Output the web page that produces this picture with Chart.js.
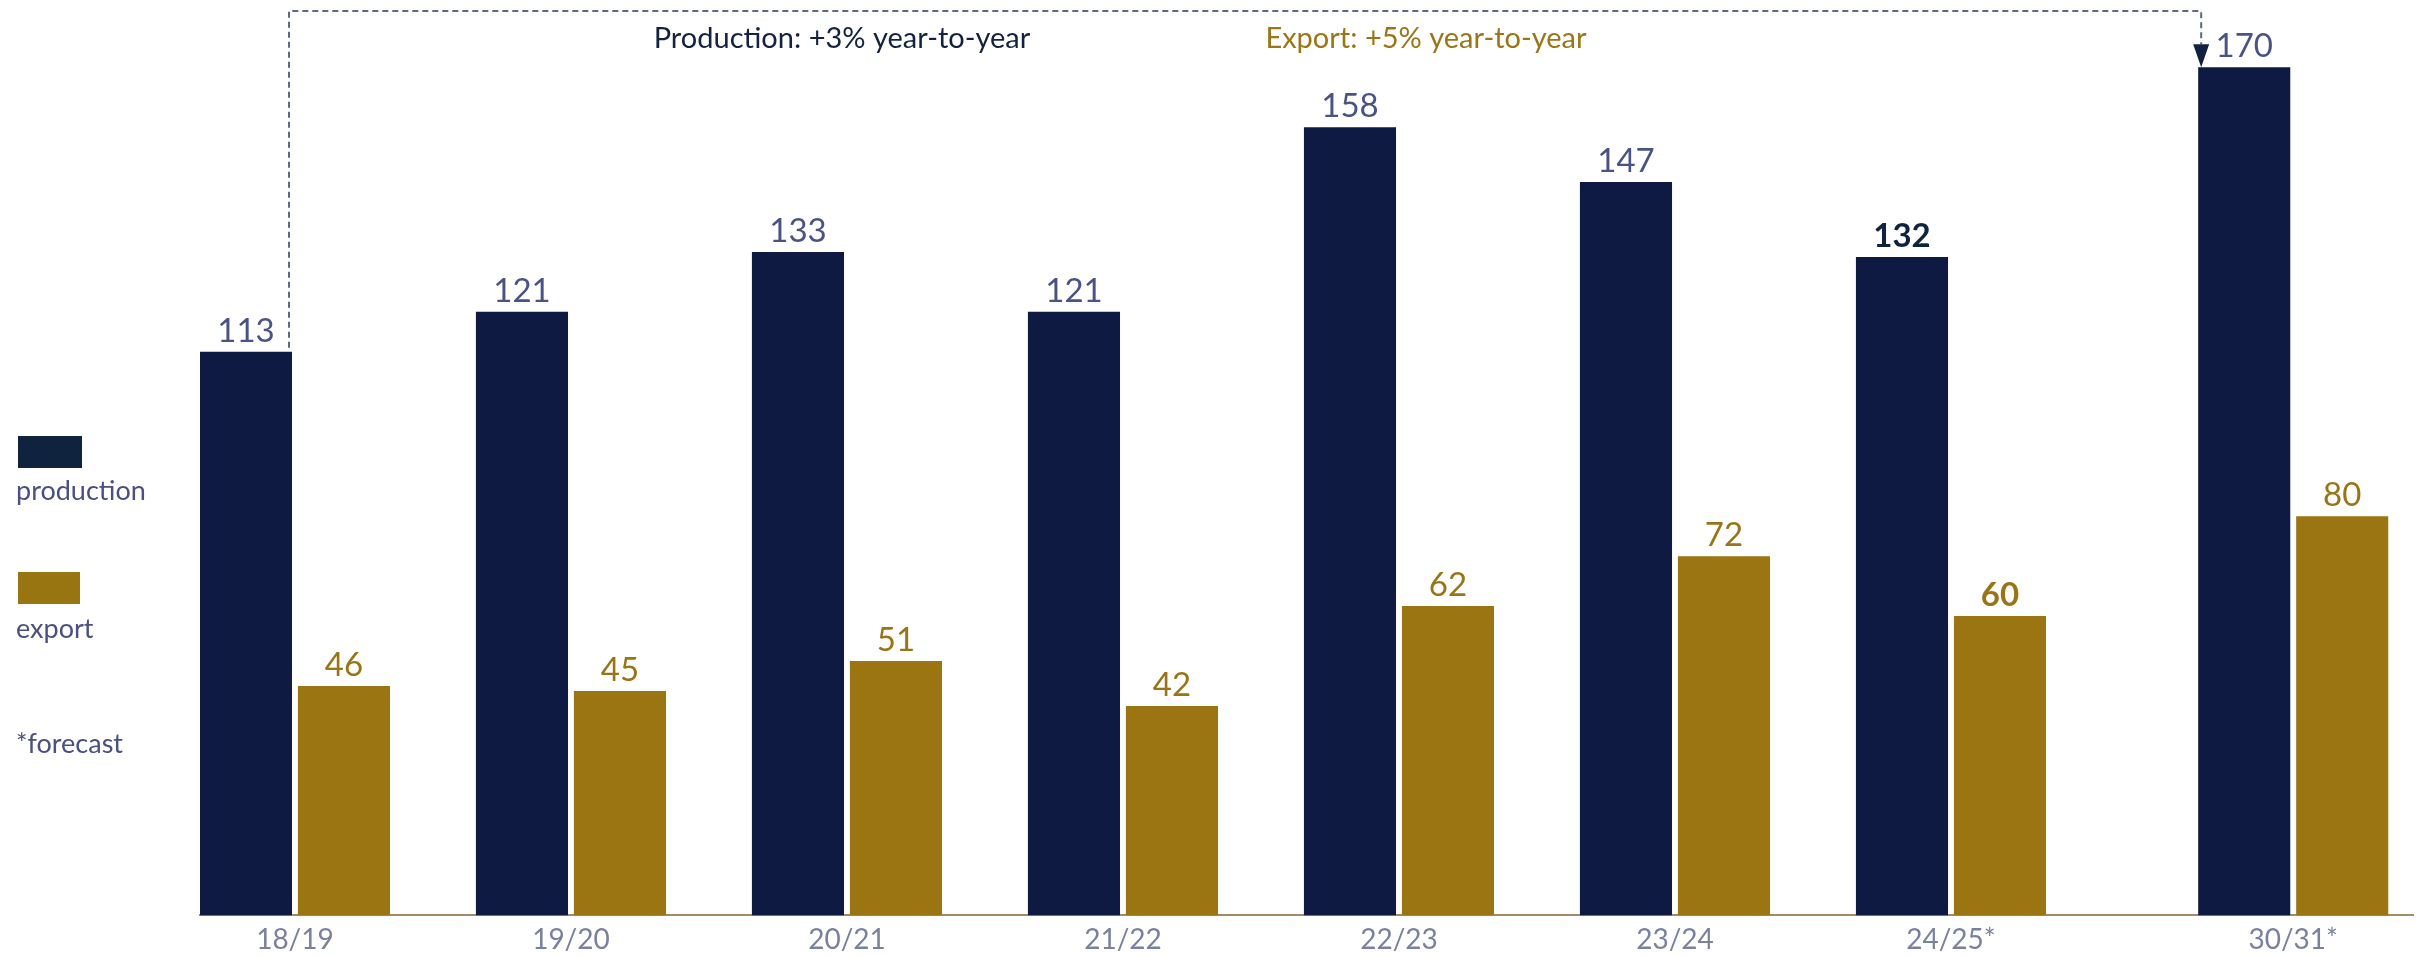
<!DOCTYPE html>
<html>
<head>
<meta charset="utf-8">
<title>Production and export</title>
<script src="https://cdn.jsdelivr.net/npm/chart.js@4.4.1/dist/chart.umd.min.js"></script>
<style>
  html, body { margin: 0; padding: 0; background: #fff; }
  #container { width: 2425px; height: 956px; }
</style>
</head>
<body>
<div id="container"><canvas id="canvas" width="2425" height="956"></canvas></div>
<script>
var categories = ['18/19', '19/20', '20/21', '21/22', '22/23', '23/24', '24/25*', '30/31*'];
var production = [113, 121, 133, 121, 158, 147, 132, 170];
var exports = [46, 45, 51, 42, 62, 72, 60, 80];
var highlight = '24/25*';
var legendLabels = ['production', 'export', '*forecast'];
var notes = ['Production: +3% year-to-year', 'Export: +5% year-to-year'];

// the last season sits a bit further right (jump in time)
var forecastGap = 0.24;
var slots = categories.map(function(c, i) { return i === categories.length - 1 ? i + forecastGap : i; });

var navy = '#0e1a42';
var gold = '#9a7511';
var font = "Lato, 'Open Sans', sans-serif";

function points(values) {
  return values.map(function(v, i) { return { x: slots[i], y: v }; });
}

var overlay = {
  id: 'overlay',
  afterDatasetsDraw: function(chart) {
    var ctx = chart.ctx;
    var pm = chart.getDatasetMeta(0);
    var em = chart.getDatasetMeta(1);
    ctx.save();

    // value labels
    ctx.textAlign = 'center';
    ctx.textBaseline = 'alphabetic';
    [pm, em].forEach(function(meta, d) {
      meta.data.forEach(function(bar, i) {
        var bold = categories[i] === highlight;
        ctx.font = (bold ? 'bold ' : '') + '33px ' + font;
        if (d === 0) ctx.fillStyle = bold ? '#0e2340' : '#4a5385';
        else ctx.fillStyle = '#9a7518';
        var v = chart.data.datasets[d].data[i].y;
        ctx.fillText(v, bar.x, bar.y - 10);
      });
    });

    // dashed connector from first to last production bar
    var first = pm.data[0];
    var last = pm.data[pm.data.length - 1];
    var x0 = first.x + first.width / 2 - 3;
    var x1 = last.x - last.width / 2 + 3;
    var topY = 11;
    ctx.setLineDash([6, 4]);
    ctx.lineWidth = 2;
    ctx.strokeStyle = '#5b6a80';
    ctx.beginPath();
    ctx.moveTo(x0, first.y - 4);
    ctx.lineTo(x0, topY);
    ctx.lineTo(x1, topY);
    ctx.lineTo(x1, last.y - 23);
    ctx.stroke();
    ctx.setLineDash([]);
    ctx.fillStyle = '#10223f';
    ctx.beginPath();
    ctx.moveTo(x1 - 8, last.y - 23);
    ctx.lineTo(x1 + 8, last.y - 23);
    ctx.lineTo(x1, last.y);
    ctx.closePath();
    ctx.fill();

    // growth notes
    ctx.font = '29px ' + font;
    ctx.textAlign = 'center';
    ctx.textBaseline = 'middle';
    ctx.fillStyle = '#13233f';
    ctx.fillText(notes[0], 842, 39);
    ctx.fillStyle = '#9b7618';
    ctx.fillText(notes[1], 1426, 39);

    // legend on the left
    ctx.textAlign = 'left';
    ctx.fillStyle = '#0f233f';
    ctx.fillRect(18, 436, 64, 32);
    ctx.fillStyle = '#997512';
    ctx.fillRect(18, 572, 62, 32);
    ctx.font = '27px ' + font;
    ctx.fillStyle = '#4a5080';
    ctx.fillText(legendLabels[0], 16, 491);
    ctx.fillText(legendLabels[1], 16, 629);
    ctx.fillText(legendLabels[2], 16, 744);
    ctx.restore();
  }
};

var ctx = document.getElementById('canvas').getContext('2d');
window.myBar = new Chart(ctx, {
  type: 'bar',
  data: {
    datasets: [
      { label: 'production', data: points(production), backgroundColor: navy, borderWidth: 0 },
      { label: 'export', data: points(exports), backgroundColor: gold, borderWidth: 0 }
    ]
  },
  options: {
    responsive: false,
    devicePixelRatio: 1,
    animation: false,
    categoryPercentage: 0.71,
    barPercentage: 0.94,
    layout: { padding: { left: 200, right: 12, top: 0, bottom: -9 } },
    plugins: {
      legend: { display: false },
      tooltip: { enabled: false }
    },
    scales: {
      x: {
        type: 'linear',
        offset: false,
        min: -0.344,
        max: 7.674,
        grid: { display: false, drawTicks: false, offset: false },
        border: { display: true, color: '#a68b66', width: 2 },
        afterBuildTicks: function(axis) {
          axis.ticks = slots.map(function(v) { return { value: v }; });
        },
        ticks: {
          autoSkip: false,
          maxRotation: 0,
          padding: 8,
          color: '#7a819f',
          font: { family: font, size: 28 },
          callback: function(value) {
            var i = slots.indexOf(value);
            return i >= 0 ? categories[i] : '';
          }
        }
      },
      y: {
        display: false,
        min: 0,
        max: 183.5
      }
    }
  },
  plugins: [overlay]
});
</script>
</body>
</html>
